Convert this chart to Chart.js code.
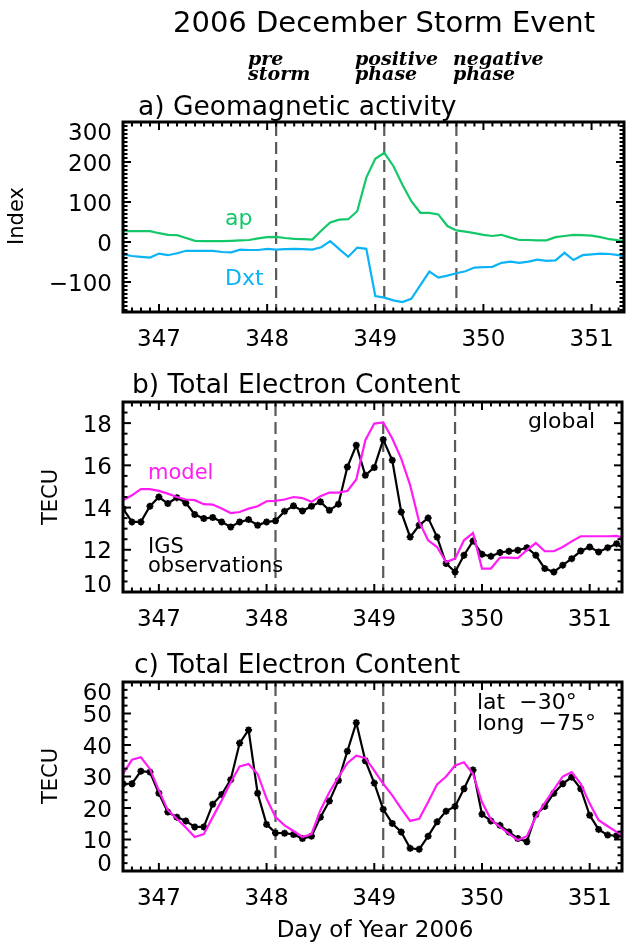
<!DOCTYPE html>
<html>
<head>
<meta charset="utf-8">
<script src="https://cdn.jsdelivr.net/npm/chart.js@4.4.1/dist/chart.umd.min.js"></script>
<style>
  html, body { margin: 0; padding: 0; background: #fff; }
  #wrap { position: relative; width: 628px; height: 943px; }
  #wrap canvas { position: absolute; left: 0; top: 0; }
</style>
</head>
<body>
<div id="wrap">
  <canvas id="panelA" width="628" height="943"></canvas>
  <canvas id="panelB" width="628" height="943"></canvas>
  <canvas id="panelC" width="628" height="943"></canvas>
</div>
<script>
// ---- data: 2-hourly samples, day of year 2006 ----
const dayOfYear = [
  346.667, 346.75, 346.833, 346.917, 347.0, 347.083, 347.167, 347.25, 347.333, 347.417,
  347.5, 347.583, 347.667, 347.75, 347.833, 347.917, 348.0, 348.083, 348.167, 348.25,
  348.333, 348.417, 348.5, 348.583, 348.667, 348.75, 348.833, 348.917, 349.0, 349.083,
  349.167, 349.25, 349.333, 349.417, 349.5, 349.583, 349.667, 349.75, 349.833, 349.917,
  350.0, 350.083, 350.167, 350.25, 350.333, 350.417, 350.5, 350.583, 350.667, 350.75,
  350.833, 350.917, 351.0, 351.083, 351.167, 351.25, 351.333
];

// a) geomagnetic indices
const apIndex = [
  27, 27, 27, 27, 22, 18, 17, 10, 3, 2,
  2, 2, 3, 4, 5, 9, 12, 13, 10, 8,
  7, 6, 28, 49, 56, 57, 77, 161, 208, 223,
  190, 144, 102, 73, 73, 69, 40, 29, 26, 22,
  18, 15, 18, 11, 5, 5, 4, 4, 12, 15,
  18, 17, 16, 12, 7, 4, 2
];
const dxtIndex = [
  -31, -35, -37, -39, -29, -33, -28, -22, -22, -22,
  -22, -25, -26, -19, -20, -20, -17, -19, -18, -17,
  -18, -19, -13, 2, -18, -37, -14, -17, -135, -139,
  -146, -150, -142, -108, -74, -89, -84, -78, -73, -64,
  -63, -62, -52, -49, -52, -49, -44, -47, -46, -27,
  -45, -33, -31, -29, -30, -33, -38
];

// b) global TEC (TECU)
const globalTecIGS = [
  13.95, 13.32, 13.32, 14.06, 14.5, 14.19, 14.47, 14.22, 13.67, 13.48,
  13.53, 13.32, 13.08, 13.32, 13.43, 13.16, 13.32, 13.37, 13.82, 14.08,
  13.84, 14.06, 14.27, 13.87, 14.16, 15.92, 16.95, 15.53, 15.9, 17.22,
  16.24, 13.79, 12.6, 13.16, 13.51, 12.6, 11.35, 10.95, 11.74, 12.42,
  11.79, 11.69, 11.87, 11.93, 11.98, 12.1, 11.74, 11.11, 10.95, 11.27,
  11.58, 11.94, 12.13, 11.9, 12.1, 12.29, 11.98
];
const globalTecModel = [
  14.35, 14.58, 14.87, 14.87, 14.79, 14.66, 14.5, 14.38, 14.35, 14.16,
  14.14, 13.95, 13.74, 13.79, 13.95, 14.06, 14.3, 14.32, 14.38, 14.5,
  14.45, 14.27, 14.54, 14.71, 14.71, 14.79, 15.33, 17.19, 17.98, 18.03,
  17.27, 16.32, 15.06, 13.32, 12.45, 12.13, 11.42, 11.58, 12.45, 12.8,
  11.11, 11.11, 11.63, 11.63, 11.61, 11.98, 12.32, 11.93, 11.93, 12.13,
  12.4, 12.64, 12.64, 12.64, 12.64, 12.66, 12.53
];

// c) TEC at lat -30, long -75 (TECU)
const localTecIGS = [
  27.7, 27.7, 31.7, 31.4, 24.7, 18.7, 17.1, 15.9, 14, 14,
  21.2, 24.3, 29, 40.6, 44.8, 24.7, 14.8, 12.1, 12, 11.6,
  10.3, 11.05, 17.1, 22.2, 28.7, 38, 47.1, 35, 27.9, 19.6,
  15.1, 12.4, 7.2, 6.9, 11.05, 15.6, 19, 20.5, 26.1, 32.1,
  18, 15.9, 14.5, 12.4, 10.3, 9.3, 17.9, 20.5, 24.7, 27.7,
  29.8, 26.1, 17.7, 13.2, 11.4, 11.2, 10.8
];
const localTecModel = [
  30.8, 35.3, 36.1, 32.4, 25.6, 19.3, 16.6, 13.8, 10.8, 11.7,
  17.1, 22.4, 28.2, 33.2, 34, 30.8, 23, 17.1, 14.5, 12.7,
  10.8, 11.7, 19.3, 25, 29.8, 34.2, 36.6, 35.9, 31.9, 27.7,
  24, 19.8, 15.9, 16.6, 21.9, 27.5, 30, 33.5, 34.5, 30.8,
  21.9, 16.3, 14, 11.9, 9.8, 11.05, 17.1, 21.6, 25.8, 30,
  31.4, 27.7, 21.4, 16.1, 14.2, 12.4, 10.6
];

// storm phase boundaries (day of year)
const phaseBoundaries = [348.083, 349.083, 349.75];

// tick labels
const dayTicks = [347, 348, 349, 350, 351];
const indexTicks = [-100, 0, 100, 200, 300];
const globalTecTicks = [10, 12, 14, 16, 18];
const localTecTicks = [0, 10, 20, 30, 40, 50, 60];

// ---- styling ----
const SANS = '"DejaVu Sans", "Liberation Sans", sans-serif';
const PHASE_FONT = 'bold italic 19px "DejaVu Serif", "Liberation Serif", serif';
const GREEN = '#14c869';
const BLUE = '#0db4f5';
const MAGENTA = '#ff1cf5';
const X_MIN = 346.667, X_MAX = 351.3;

const pts = (vals) => vals.map((v, i) => ({ x: dayOfYear[i], y: v }));

// IDL-style frame: inward ticks on all four sides, clamped tick labels, annotations
const idlFrame = {
  id: 'idlFrame',
  beforeDatasetsDraw(chart, args, o) {
    const { ctx, chartArea: a, scales: { x } } = chart;
    ctx.save();
    ctx.strokeStyle = '#5a5a5a';
    ctx.lineWidth = 2.2;
    ctx.setLineDash([12, 6]);
    phaseBoundaries.forEach(d => {
      const px = x.getPixelForValue(d);
      ctx.beginPath(); ctx.moveTo(px, a.top + 2); ctx.lineTo(px, a.bottom); ctx.stroke();
    });
    ctx.restore();
  },
  afterDatasetsDraw(chart, args, o) {
    const { ctx, chartArea: a, scales: { x, y } } = chart;
    ctx.save();
    ctx.strokeStyle = '#000';
    ctx.lineWidth = 2;
    const seg = (x1, y1, x2, y2) => { ctx.beginPath(); ctx.moveTo(x1, y1); ctx.lineTo(x2, y2); ctx.stroke(); };

    // x ticks (minor every 2 hours)
    for (let k = Math.ceil(X_MIN * 12 - 1e-6); k <= X_MAX * 12 + 1e-6; k++) {
      const v = k / 12;
      const major = Math.abs(v - Math.round(v)) < 1e-6;
      const len = major ? 8 : 4.5;
      const px = x.getPixelForValue(v);
      seg(px, a.bottom, px, a.bottom - len);
      seg(px, a.top, px, a.top + len);
    }
    // y ticks
    const yMin = y.min, yMax = y.max;
    for (let v = Math.ceil(yMin / o.yMinor - 1e-6) * o.yMinor; v <= yMax + 1e-6; v += o.yMinor) {
      const major = o.yTicks.some(t => Math.abs(t - v) < 1e-6);
      const len = major ? 8 : 4.5;
      const py = y.getPixelForValue(v);
      seg(a.left, py, a.left + len, py);
      seg(a.right, py, a.right - len, py);
    }
    // frame
    ctx.lineWidth = 3;
    ctx.strokeRect(a.left, a.top, a.right - a.left, a.bottom - a.top);

    // tick labels
    ctx.fillStyle = '#000';
    ctx.font = '23px ' + SANS;
    ctx.textAlign = 'center';
    ctx.textBaseline = 'alphabetic';
    dayTicks.forEach(d => ctx.fillText(String(d), x.getPixelForValue(d), a.bottom + 34));
    ctx.textAlign = 'right';
    o.yTicks.forEach(t => {
      let py = y.getPixelForValue(t);
      py = Math.min(Math.max(py, a.top + 9), a.bottom - 9);
      ctx.fillText(t < 0 ? '\u2212' + Math.abs(t) : String(t), 112, py + 8.5);
    });

    // axis title
    ctx.save();
    ctx.font = '21px ' + SANS;
    ctx.textAlign = 'center';
    ctx.textBaseline = 'middle';
    ctx.translate(o.yTitle.x, o.yTitle.y);
    ctx.rotate(-Math.PI / 2);
    ctx.fillText(o.yTitle.text, 0, 0);
    ctx.restore();

    // annotations
    (o.texts || []).forEach(t => {
      ctx.font = t.font;
      ctx.fillStyle = t.color || '#000';
      ctx.textAlign = t.align || 'left';
      ctx.textBaseline = 'alphabetic';
      ctx.fillText(t.text, t.x, t.y);
    });
    ctx.restore();
  }
};

function makePanel(id, datasets, yMin, yMax, pad, frameOpts) {
  return new Chart(document.getElementById(id), {
    type: 'line',
    data: { datasets },
    options: {
      responsive: false,
      animation: false,
      devicePixelRatio: 1,
      layout: { padding: pad },
      elements: { line: { tension: 0, borderWidth: 2.2 }, point: { radius: 0 } },
      scales: {
        x: { type: 'linear', min: X_MIN, max: X_MAX, display: false },
        y: { type: 'linear', min: yMin, max: yMax, display: false }
      },
      plugins: { legend: { display: false }, tooltip: { enabled: false }, idlFrame: frameOpts }
    },
    plugins: [idlFrame]
  });
}

const big = '29px ' + SANS, mid = '26.5px ' + SANS, small = '21px ' + SANS;

// a) Geomagnetic activity
makePanel('panelA', [
  { data: pts(apIndex), borderColor: GREEN },
  { data: pts(dxtIndex), borderColor: BLUE }
], -175, 300, { left: 123, right: 4, top: 122, bottom: 943 - 312 }, {
  yTicks: indexTicks, yMinor: 10,
  yTitle: { text: 'Index', x: 18, y: 216 },
  texts: [
    { text: '2006 December Storm Event', x: 173, y: 32, font: big },
    { text: 'pre', x: 248, y: 65, font: PHASE_FONT },
    { text: 'storm', x: 248, y: 80, font: PHASE_FONT },
    { text: 'positive', x: 355, y: 65, font: PHASE_FONT },
    { text: 'phase', x: 355, y: 80, font: PHASE_FONT },
    { text: 'negative', x: 453, y: 65, font: PHASE_FONT },
    { text: 'phase', x: 453, y: 80, font: PHASE_FONT },
    { text: 'a) Geomagnetic activity', x: 138, y: 115, font: mid },
    { text: 'ap', x: 225, y: 225, font: '22px ' + SANS, color: GREEN },
    { text: 'Dxt', x: 225, y: 285, font: '22px ' + SANS, color: BLUE }
  ]
});

// b) Total Electron Content, global
makePanel('panelB', [
  { data: pts(globalTecModel), borderColor: MAGENTA },
  { data: pts(globalTecIGS), borderColor: '#000', pointStyle: 'star', pointRadius: 3.5,
    pointBorderWidth: 2, pointBorderColor: '#000', pointBackgroundColor: '#000' }
], 10, 19, { left: 123, right: 4, top: 402, bottom: 943 - 592 }, {
  yTicks: globalTecTicks, yMinor: 0.5,
  yTitle: { text: 'TECU', x: 52, y: 497 },
  texts: [
    { text: 'b) Total Electron Content', x: 132, y: 393, font: mid },
    { text: 'global', x: 528, y: 428, font: '22px ' + SANS },
    { text: 'model', x: 148, y: 479, font: small, color: MAGENTA },
    { text: 'IGS', x: 148, y: 553, font: small },
    { text: 'observations', x: 148, y: 572, font: small }
  ]
});

// c) Total Electron Content, single location
makePanel('panelC', [
  { data: pts(localTecModel), borderColor: MAGENTA },
  { data: pts(localTecIGS), borderColor: '#000', pointStyle: 'star', pointRadius: 3.5,
    pointBorderWidth: 2, pointBorderColor: '#000', pointBackgroundColor: '#000' }
], 0, 60, { left: 123, right: 4, top: 682, bottom: 943 - 871 }, {
  yTicks: localTecTicks, yMinor: 2.5,
  yTitle: { text: 'TECU', x: 52, y: 776 },
  texts: [
    { text: 'c) Total Electron Content', x: 134, y: 673, font: mid },
    { text: 'lat  \u221230\u00b0', x: 477, y: 709, font: '22px ' + SANS },
    { text: 'long  \u221275\u00b0', x: 477, y: 730, font: '22px ' + SANS },
    { text: 'Day of Year 2006', x: 375, y: 937, font: '23px ' + SANS, align: 'center' }
  ]
});
</script>
</body>
</html>
